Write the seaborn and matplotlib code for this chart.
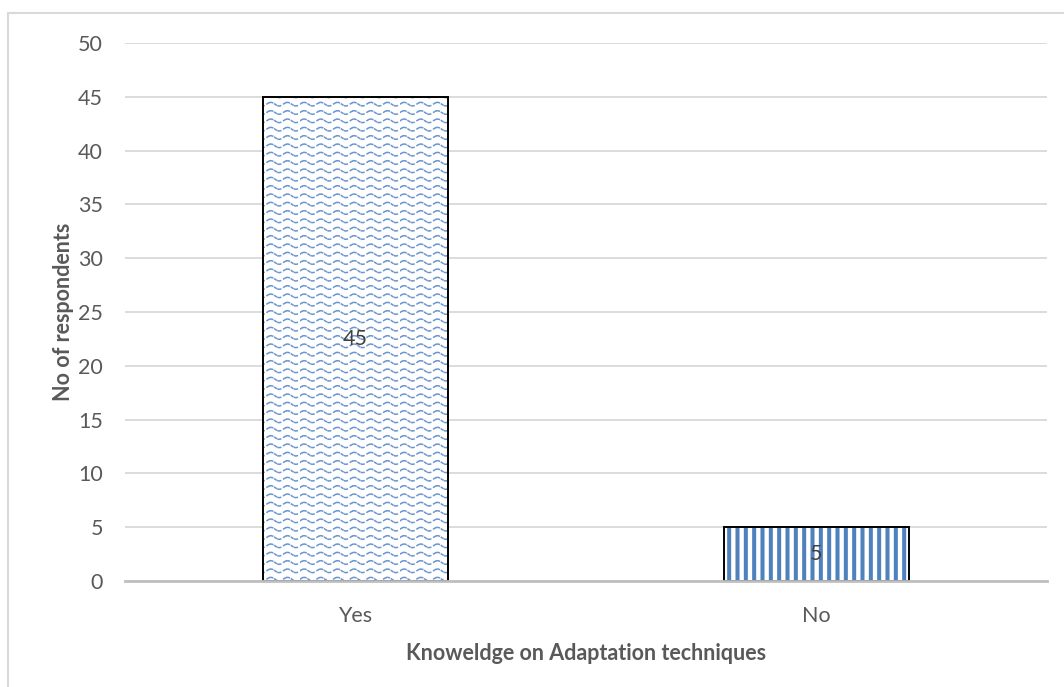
import warnings
import numpy as np
import matplotlib
matplotlib.use("Agg")
import matplotlib.pyplot as plt
import matplotlib.hatch as mhatch
from matplotlib.path import Path
from matplotlib.patches import Rectangle
import seaborn as sns
import pandas as pd

categories = ["Yes", "No"]
respondents = [45, 5]
y_ticks = [0, 5, 10, 15, 20, 25, 30, 35, 40, 45, 50]


class WaveHatch(mhatch.HatchPatternBase):
    """Broken wavy rows, selected with the '~' hatch character."""
    rows = 12
    periods = 6
    pieces = [(0.02, 0.12), (0.20, 0.36), (0.48, 0.58), (0.68, 0.84)]
    steps = 4

    def __init__(self, hatch, density):
        self.on = hatch.count("~") > 0
        n_seg = self.rows * self.periods * len(self.pieces)
        self.num_vertices = n_seg * self.steps if self.on else 0

    def set_vertices_and_codes(self, vertices, codes):
        amp = 0.018
        k = 0
        for r in range(self.rows):
            y0 = (r + 0.5) / self.rows
            for p in range(self.periods):
                for a, b in self.pieces:
                    t = np.linspace(a, b, self.steps)
                    x = (p + t) / self.periods
                    y = y0 + amp * np.sin(2 * np.pi * t)
                    vertices[k:k + self.steps, 0] = x
                    vertices[k:k + self.steps, 1] = y
                    codes[k] = Path.MOVETO
                    codes[k + 1:k + self.steps] = Path.LINETO
                    k += self.steps


mhatch._hatch_types.append(WaveHatch)
warnings.filterwarnings("ignore")

sns.set_theme(style="white")
plt.rcParams["font.family"] = ["Lato", "DejaVu Sans"]

df = pd.DataFrame({"answer": categories, "count": respondents})

fig = plt.figure(figsize=(10.64, 6.87), dpi=100)
ax = fig.add_axes([0.1175, 0.1543, 0.8665, 0.7831])

sns.barplot(data=df, x="answer", y="count", order=categories, width=0.4,
            color="white", edgecolor="black", linewidth=1.4, ax=ax,
            saturation=1, zorder=3)

hatches = ["~", "||"]
hatch_widths = [1.1, 2.9]
hatch_colors = ["#6B96CE", "#4F81BD"]
for patch, h, lw, hc in zip(ax.patches, hatches, hatch_widths, hatch_colors):
    patch.set_hatch(h)
    patch.set_facecolor("white")
    patch.set_edgecolor("black")
    try:
        patch.set_hatch_linewidth(lw)
    except AttributeError:
        pass
    patch._hatch_color = matplotlib.colors.to_rgba(hc)

for patch, val in zip(ax.patches, respondents):
    cx = patch.get_x() + patch.get_width() / 2
    ax.text(cx, val / 2, f"{val}", ha="center", va="center",
            fontsize=15.5, color="#404040", zorder=5)

ax.set_ylim(0, 50)
ax.set_xlim(-0.5, 1.5)
ax.set_yticks(y_ticks)
ax.set_yticklabels([str(t) for t in y_ticks])
ax.yaxis.grid(True, color="#D9D9D9", linewidth=1.3, zorder=0)
ax.set_axisbelow(True)
for side in ["left", "right", "top"]:
    ax.spines[side].set_visible(False)
ax.spines["bottom"].set_color("#BFBFBF")
ax.spines["bottom"].set_linewidth(2)
ax.spines["bottom"].set_zorder(4)
ax.tick_params(axis="both", length=0, labelsize=15.5, colors="#595959")
ax.tick_params(axis="y", pad=16)
ax.tick_params(axis="x", pad=18)

ax.set_xlabel("Knoweldge on Adaptation techniques", fontsize=15.5,
              fontweight="bold", color="#595959", labelpad=12)
ax.set_ylabel("No of respondents", fontsize=15.5, fontweight="bold",
              color="#595959", labelpad=3)

fig.patches.append(Rectangle((8 / 1064, -0.05), 1.1, 1 - 13 / 687 + 0.05,
                             transform=fig.transFigure, fill=False,
                             edgecolor="#D9D9D9", linewidth=1.5))

fig.savefig("out.png", dpi=100)
